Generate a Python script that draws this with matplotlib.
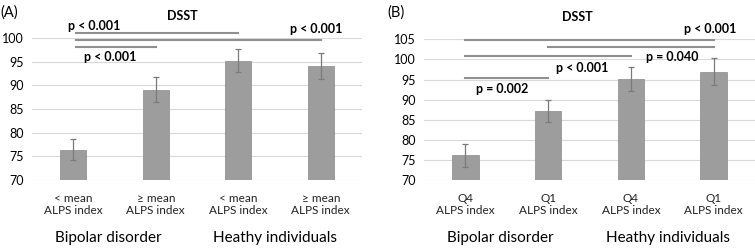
import matplotlib
matplotlib.use("Agg")
import matplotlib.pyplot as plt
import numpy as np

plt.rcParams["font.family"] = ["Lato", "DejaVu Sans"]

# Panel A: split by mean ALPS index
CATS_A = ["< mean\nALPS index", "\u2265 mean\nALPS index", "< mean\nALPS index", "\u2265 mean\nALPS index"]
VALS_A = [76.4, 89.1, 95.2, 94.1]
ERR_A = [2.2, 2.65, 2.45, 2.75]
BRACKETS_A = [(0.03, 2.0, 101.0), (0.03, 3.0, 99.6), (0.03, 1.0, 98.1)]
PLABELS_A = [("p < 0.001", 0.25, 102.6), ("p < 0.001", 0.45, 96.0), ("p < 0.001", 2.95, 101.9)]

# Panel B: Q4 vs Q1 of ALPS index
CATS_B = ["Q4\nALPS index", "Q1\nALPS index", "Q4\nALPS index", "Q1\nALPS index"]
VALS_B = [76.2, 87.2, 95.2, 97.0]
ERR_B = [2.8, 2.85, 3.0, 3.4]
BRACKETS_B = [(0, 3, 104.8), (1, 3, 103.1), (0, 2, 100.9), (0, 1, 95.3)]
PLABELS_B = [("p < 0.001", 2.96, 107.5), ("p = 0.040", 2.5, 100.6),
             ("p < 0.001", 1.41, 97.9), ("p = 0.002", 0.44, 92.7)]

GROUPS = ["Bipolar disorder", "Heathy individuals"]

BAR_COLOR = "#9d9d9d"
LINE_COLOR = "#8f8f8f"


def draw_panel(ax, cats, vals, errs, ymax, brackets, plabels):
    x = np.arange(len(cats))
    ax.bar(x, vals, width=0.32, color=BAR_COLOR, edgecolor="#8a8a8a", linewidth=0.5,
           yerr=errs, ecolor="#7a7a7a", capsize=2.5, error_kw={"elinewidth": 0.9, "capthick": 0.9},
           zorder=3)
    ax.set_xlim(-0.5, len(cats) - 0.5)
    ax.set_ylim(70, ymax)
    ax.set_yticks(np.arange(70, ymax + 1, 5))
    ax.set_xticks(x)
    ax.set_xticklabels(cats, color="#222222", linespacing=1.15)
    ax.tick_params(axis="both", length=0)
    ax.tick_params(axis="y", labelsize=9, pad=6)
    ax.tick_params(axis="x", pad=9, labelsize=8.5)
    ax.yaxis.grid(True, color="#d9d9d9", linewidth=0.8, zorder=0)
    ax.set_axisbelow(True)
    for s in ax.spines.values():
        s.set_visible(False)
    for x0, x1, y in brackets:
        ax.plot([x0, x1], [y, y], color=LINE_COLOR, linewidth=1.5, clip_on=False, zorder=4)
    for txt, px, py in plabels:
        ax.text(px, py, txt, ha="center", va="center", fontsize=9, fontweight="bold",
                clip_on=False)
    trans = ax.get_xaxis_transform()
    for name, gx in zip(GROUPS, [0.42, 2.45]):
        ax.text(gx, -0.41, name, transform=trans, ha="center", va="center", fontsize=11)


fig = plt.figure(figsize=(7.55, 2.48), dpi=100)
ax_a = fig.add_axes([0.0424, 0.274, 0.4371, 0.5726])
ax_b = fig.add_axes([0.5616, 0.2729, 0.4384, 0.5687])

draw_panel(ax_a, CATS_A, VALS_A, ERR_A, 100, BRACKETS_A, PLABELS_A)
draw_panel(ax_b, CATS_B, VALS_B, ERR_B, 105, BRACKETS_B, PLABELS_B)

fig.text(0.0, 0.95, "(A)", fontsize=10.5, ha="left", va="center")
fig.text(0.513, 0.95, "(B)", fontsize=10.5, ha="left", va="center")
fig.text(0.242, 0.935, "DSST", fontsize=9, fontweight="bold", ha="center", va="center")
fig.text(0.764, 0.93, "DSST", fontsize=9, fontweight="bold", ha="center", va="center")

fig.savefig("out.png", dpi=100)
